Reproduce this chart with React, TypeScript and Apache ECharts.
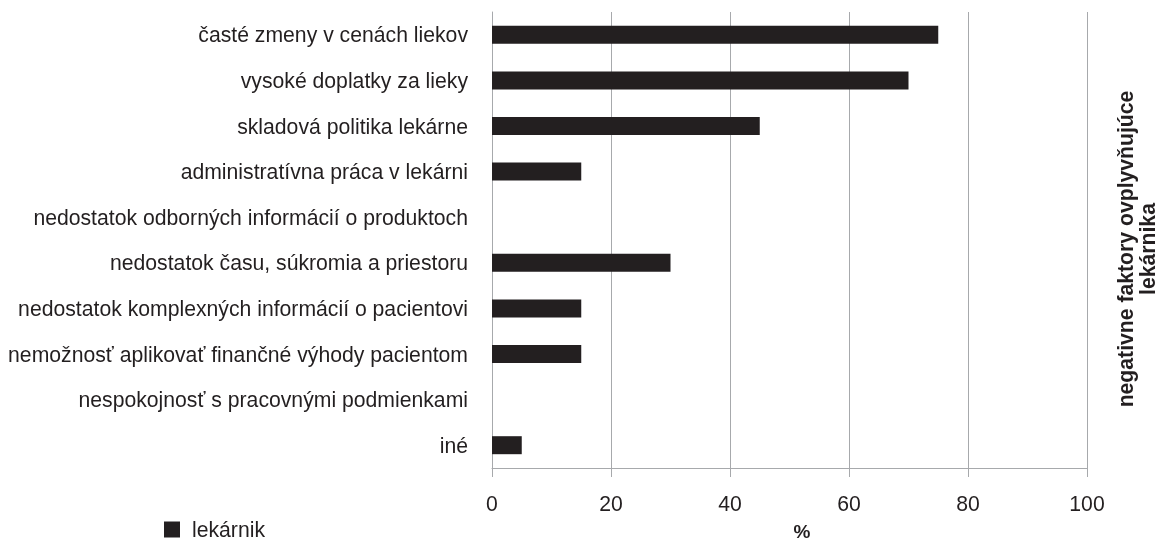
import React, { useEffect, useRef } from "react";
import * as echarts from "echarts";

const categories = [
  "časté zmeny v cenách liekov",
  "vysoké doplatky za lieky",
  "skladová politika lekárne",
  "administratívna práca v lekárni",
  "nedostatok odborných informácií o produktoch",
  "nedostatok času, súkromia a priestoru",
  "nedostatok komplexných informácií o pacientovi",
  "nemožnosť aplikovať finančné výhody pacientom",
  "nespokojnosť s pracovnými podmienkami",
  "iné",
];
const values = [75, 70, 45, 15, 0, 30, 15, 15, 0, 5];
const seriesName = "lekárnik";
const xTicks = { min: 0, max: 100, interval: 20 };
const xAxisTitle = "%";
const rightTitle = "negativne faktory ovplyvňujúce\nlekárnika";

const FONT = "'Liberation Sans', Arial, Helvetica, sans-serif";
const TEXT = "#231f20";
const GRID = "#a7a9ac";
const FS = 21.2;

export default function App() {
  const ref = useRef<HTMLDivElement>(null);
  useEffect(() => {
    if (!ref.current) return;
    const chart = echarts.init(ref.current, undefined, { renderer: "svg" });
    chart.setOption({
      animation: false,
      textStyle: { fontFamily: FONT },
      grid: { left: 492, right: 71, top: 12, bottom: 74, containLabel: false, outerBoundsMode: "none" },
      legend: {
        left: 164,
        top: 519,
        padding: 0,
        icon: "rect",
        itemWidth: 16,
        itemHeight: 16,
        textStyle: { fontSize: FS, color: TEXT, fontFamily: FONT, padding: [0, 0, 0, 7] },
        data: [seriesName],
      },
      xAxis: {
        type: "value",
        min: xTicks.min,
        max: xTicks.max,
        interval: xTicks.interval,
        name: xAxisTitle,
        nameLocation: "middle",
        nameGap: 54,
        nameTextStyle: {
          fontSize: 19,
          fontWeight: "bold",
          color: TEXT,
          fontFamily: FONT,
          padding: [0, 0, 0, 25],
        },
        axisLine: { show: true, lineStyle: { color: GRID, width: 1 } },
        axisTick: { show: true, length: 9, lineStyle: { color: GRID } },
        axisLabel: { fontSize: FS, color: TEXT, margin: 25, fontFamily: FONT },
        splitLine: { show: true, lineStyle: { color: GRID, width: 1 } },
      },
      yAxis: {
        type: "category",
        inverse: true,
        data: categories,
        axisLine: { show: true, lineStyle: { color: GRID, width: 1 } },
        axisTick: { show: false },
        axisLabel: { fontSize: FS, color: TEXT, margin: 24, fontFamily: FONT },
        splitLine: { show: false },
      },
      series: [
        {
          name: seriesName,
          type: "bar",
          data: values,
          barWidth: 18,
          itemStyle: { color: TEXT },
        },
      ],
      graphic: [
        {
          type: "text",
          x: 1136,
          y: 249,
          rotation: Math.PI / 2,
          style: {
            text: rightTitle,
            fontSize: FS,
            fontWeight: "bold",
            fontFamily: FONT,
            fill: TEXT,
            align: "center",
            verticalAlign: "middle",
            lineHeight: 22,
          },
        },
      ],
    });
    return () => chart.dispose();
  }, []);
  return <div ref={ref} style={{ width: 1158, height: 542, position: "fixed", left: 0, top: 0 }} />;
}
